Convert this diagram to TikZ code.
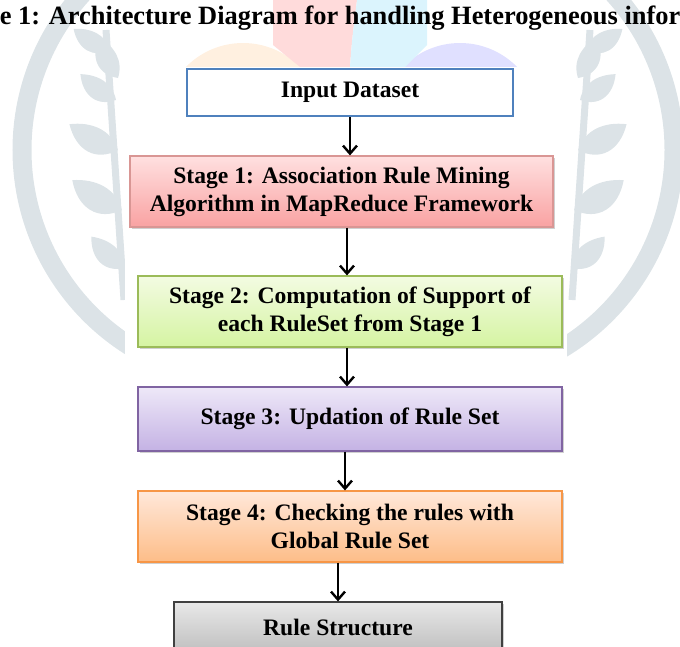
\documentclass[tikz,border=0pt]{standalone}
\usepackage{fontspec}
\setmainfont{Liberation Serif}
\usetikzlibrary{arrows.meta,shadows,calc}

\definecolor{wmgrey}{HTML}{DCE3E7}
\definecolor{inblue}{HTML}{4F81BD}
\definecolor{redline}{HTML}{D99694}
\definecolor{redtop}{HTML}{FFE0E0}
\definecolor{redbot}{HTML}{F9A2A2}
\definecolor{greenline}{HTML}{9BBB59}
\definecolor{greentop}{HTML}{F3FBE2}
\definecolor{greenbot}{HTML}{D5F4A2}
\definecolor{violetline}{HTML}{8064A2}
\definecolor{violettop}{HTML}{EEE8F8}
\definecolor{violetbot}{HTML}{C4B2E4}
\definecolor{orangeline}{HTML}{F79646}
\definecolor{orangetop}{HTML}{FFE8DA}
\definecolor{orangebot}{HTML}{FDBD88}

\begin{document}
\begin{tikzpicture}[x=1pt,y=-1pt,
  stagebox/.style={draw, line width=1.2pt, minimum width=424pt, minimum height=71pt,
    inner sep=0pt, align=center, font=\fontsize{23.6}{28}\selectfont\bfseries,
    drop shadow={shadow xshift=1.5pt, shadow yshift=-2pt, opacity=0.3, fill=black!60}},
  flowarrow/.style={-{Straight Barb[length=8pt,width=14pt]}, line width=2.4pt},
  leaf/.pic={\fill (0,0) .. controls (12,-18) and (32,-18) .. (48,0) .. controls (32,11) and (14,13) .. (0,0);}
]
\useasboundingbox (0,0) rectangle (680,646);
\clip (0,0) rectangle (680,646);

% watermark behind the figure
\draw[wmgrey, line width=19pt] (254,150) ++(120:232) arc (120:228:232);
\draw[wmgrey, line width=19pt] (442,150) ++(60:232) arc (60:-48:232);
\draw[wmgrey, line width=7pt] (106,30) -- (124,300);
\draw[wmgrey, line width=7pt] (590,30) -- (572,300);
\foreach \bx/\by/\ang/\len in {110/50/150/42, 118/78/115/45, 116/100/144/44,
    118/150/152/55, 122/210/149/58, 125/268/137/46}{
  \pic[wmgrey, rotate=\ang, scale=\len/48] at (\bx,\by) {leaf};
  \pic[wmgrey, rotate=180-\ang, yscale=-1, scale=\len/48] at (696-\bx,\by) {leaf};
}

% coloured logo pieces at the top
\fill[orange!12] (243,123) circle (80);
\fill[blue!12] (460,123) circle (80);
\fill[red!14] (273,0) -- (273,45) -- (300,67) -- (350,67) .. controls (352,40) .. (357,0) -- cycle;
\fill[cyan!14] (357,0) -- (427,0) -- (427,45) -- (405,67) -- (350,67) .. controls (352,40) .. (357,0) -- cycle;

\node[anchor=base, inner sep=0pt, font=\fontsize{26.4}{30}\selectfont\bfseries] (title) at (340,24)
  {e 1: Architecture Diagram for handling Heterogeneous infor};

\fill[white] (125,67) rectangle (567,660);

% stages
\node[draw=inblue, line width=2.4pt, fill=white, minimum width=326pt, minimum height=47pt,
  inner sep=0pt, font=\fontsize{23.6}{28}\selectfont\bfseries] (input) at (350,92.5) {Input Dataset};
\node[stagebox, draw=redline, top color=redtop, bottom color=redbot, minimum width=423pt] (st1) at (341.5,191.5)
  {Stage 1: Association Rule Mining\\Algorithm in MapReduce Framework};
\node[stagebox, draw=greenline, top color=greentop, bottom color=greenbot] (st2) at (350,311.5)
  {Stage 2: Computation of Support of\\each RuleSet from Stage 1};
\node[stagebox, draw=violetline, top color=violettop, bottom color=violetbot, minimum height=64pt] (st3) at (350,419)
  {Stage 3: Updation of Rule Set};
\node[stagebox, draw=orangeline, top color=orangetop, bottom color=orangebot] (st4) at (350,526.5)
  {Stage 4: Checking the rules with\\Global Rule Set};
\node[stagebox, draw=black!75, top color=black!9, bottom color=black!25, minimum width=328pt, minimum height=50pt] (rule) at (338,627)
  {Rule Structure};

% connectors
\draw[flowarrow] (input.south) -- (input.south |- st1.north);
\draw[flowarrow] ($(st2.north |- st1.south)+(-3,0)$) -- ($(st2.north)+(-3,0)$);
\draw[flowarrow] ($(st2.south)+(-3,0)$) -- ($(st3.north)+(-3,0)$);
\draw[flowarrow] ($(st3.south)+(-5,0)$) -- ($(st4.north)+(-5,0)$);
\draw[flowarrow] (st4.south -| rule.north) -- (rule.north);
\end{tikzpicture}
\end{document}
